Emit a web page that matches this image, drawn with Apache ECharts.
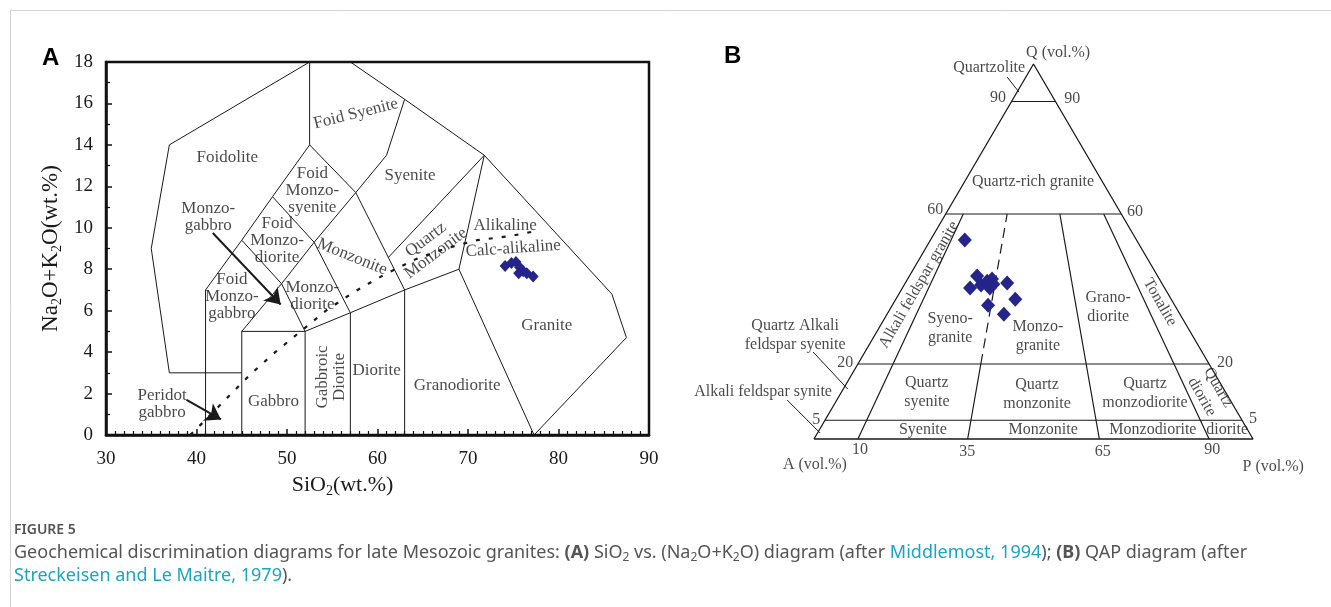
<!DOCTYPE html>
<html><head><meta charset="utf-8">
<script src="https://cdn.jsdelivr.net/npm/echarts@6/dist/echarts.min.js"></script>
<style>html,body{margin:0;padding:0;background:#fff}#c{width:1331px;height:607px}</style>
</head><body><div id="c"></div>
<script>
const FONT = '"Liberation Serif","Times New Roman",serif';
const INK = '#1a1a1a';
const NAVY = '#25248a';

// ---------- Panel A : TAS (SiO2 vs Na2O+K2O) ----------
const siO2Ticks = [30, 40, 50, 60, 70, 80, 90];
const alkTicks = [0, 2, 4, 6, 8, 10, 12, 14, 16, 18];
const sampleSiO2 = [74.1, 74.8, 75.3, 75.7, 76.1, 75.6, 76.5, 77.2];
const sampleAlk  = [8.16, 8.30, 8.35, 8.10, 7.90, 7.80, 7.80, 7.65];
const tasFieldLines = [
  [[37,3],[35,9],[37,14],[52.5,18],[57,18],[63,16.2],[71.8,13.5],[85.9,6.8],[87.5,4.7],[77.3,0]],
  [[37,3],[45,3]],
  [[41,0],[41,7],[45,9.4],[48.4,11.5],[52.5,14],[52.5,18]],
  [[52.5,14],[57.6,11.7],[61,13.5],[63,16.2]],
  [[45,9.4],[49.4,7.3],[53,9.3],[48.4,11.5]],
  [[53,9.3],[57.6,11.7]],
  [[45,0],[45,5],[52,5],[52,0]],
  [[45,5],[49.4,7.3],[52,5],[57,5.9],[63,7],[69,8],[77.3,0]],
  [[53,9.3],[57,5.9],[57,0]],
  [[57.6,11.7],[63,7],[63,0]],
  [[61.2,8.57],[71.8,13.5],[69,8]]
];
const alkalineDivide = [[39.3,0],[40.7,0.6],[43.4,1.8],[45.9,2.9],[48.7,4.0],[51.5,5.0],[54.3,6.0],[57.4,6.9],[60.6,7.7],[64.3,8.5],[67.5,9.0],[71,9.4],[74.7,9.6],[77,9.8]];
const tasArrows = [[[41.8,9.75],[49.3,6.3]], [[38.9,1.7],[42.7,0.75]]];
const tasLabels = [
  ['Foidolite', 43.4, 13.4, 0],
  ['Foid Syenite', 57.6, 15.5, 14],
  ['Foid\nMonzo-\nsyenite', 52.8, 11.8, 0],
  ['Foid\nMonzo-\ndiorite', 48.9, 9.4, 0],
  ['Monzo-\ngabbro', 41.3, 10.5, 0],
  ['Foid\nMonzo-\ngabbro', 43.9, 6.7, 0],
  ['Monzo-\ndiorite', 52.8, 6.7, 0],
  ['Monzonite', 57.2, 8.6, -22],
  ['Syenite', 63.6, 12.5, 0],
  ['Quartz\nMonzonite', 65.9, 9.1, 37],
  ['Alikaline', 74.1, 10.1, 0],
  ['Calc-alikaline', 75.0, 9.0, 4],
  ['Granite', 78.7, 5.3, 0],
  ['Granodiorite', 68.8, 2.4, 0],
  ['Diorite', 59.9, 3.1, 0],
  ['Gabbroic\nDiorite', 54.9, 2.8, 90],
  ['Gabbro', 48.5, 1.6, 0],
  ['Peridot\ngabbro', 36.2, 1.5, 0]
];

// ---------- Panel B : QAP ternary ----------
const sampleQ = [53.1, 43.5, 40.3, 41.1, 42.1, 42.7, 41.3, 40.3, 41.6, 37.3, 35.7, 33.3];
const sampleA = [39.1, 41.1, 44.3, 41.4, 39.5, 38.1, 38.5, 39.8, 35.2, 35.5, 42.5, 40.1];
const sampleP = [7.8, 15.4, 15.4, 17.5, 18.4, 19.2, 20.2, 19.9, 23.2, 27.2, 21.8, 26.6];
const qLevels = [5, 20, 60, 90];
const pRatios = [10, 35, 65, 90];
const qapLabels = [
  ['Q (vol.%)', 55.6, 102.9, 0],
  ['Quartzolite', 39.9, 98.9, 0],
  ['90', 41.9, 90.9, 0], ['90', 58.8, 90.7, 0],
  ['60', 27.6, 61.1, 0], ['60', 73.1, 60.5, 0],
  ['20', 7.1, 20.3, 0], ['20', 93.6, 20.3, 0],
  ['5', 0.5, 5.1, 0], ['5', 100.0, 5.3, 0],
  ['10', 10.5, -2.9, 0], ['35', 34.9, -3.5, 0], ['65', 65.8, -3.5, 0], ['90', 90.7, -2.9, 0],
  ['A (vol.%)', 0.2, -6.9, 0], ['P (vol.%)', 104.6, -7.5, 0],
  ['Quartz-rich granite', 49.9, 68.5, 0],
  ['Alkali feldspar granite', 23.9, 41.1, 60],
  ['Syeno-\ngranite', 31.0, 29.6, 0],
  ['Monzo-\ngranite', 51.0, 27.5, 0],
  ['Grano-\ndiorite', 67.0, 35.2, 0],
  ['Tonalite', 78.8, 36.5, -60],
  ['Quartz Alkali\nfeldspar syenite', -4.3, 27.7, 0],
  ['Alkali feldspar synite', -11.6, 12.5, 0],
  ['Quartz\nsyenite', 25.7, 12.5, 0],
  ['Syenite', 24.8, 2.4, 0],
  ['Quartz\nmonzonite', 50.8, 12.0, 0],
  ['Monzonite', 52.2, 2.4, 0],
  ['Quartz\nmonzodiorite', 75.4, 12.3, 0],
  ['Monzodiorite', 77.2, 2.4, 0],
  ['diorite', 94.1, 2.4, 0],
  ['Quartz\ndiorite', 90.2, 12.5, -60]
];
const qapLeaders = [
  [[44.0,96.5],[46.7,92.5]],
  [[-0.2,23.2],[7.7,13.3]],
  [[-6.1,10.4],[1.4,1.6]]
];

// ternary -> cartesian (Q in %, r = P/(A+P) in %)
function tern(q, r) { return [r * (1 - q / 100) + q / 2, q]; }

const series = [];
function line(xi, pts, extra) {
  series.push(Object.assign({
    type: 'line', xAxisIndex: xi, yAxisIndex: xi, data: pts, symbol: 'none',
    silent: true, animation: false, z: 3,
    lineStyle: { color: INK, width: 1 }
  }, extra || {}));
}
function labels(xi, list, size, lh) {
  series.push({
    type: 'scatter', xAxisIndex: xi, yAxisIndex: xi, symbolSize: 0, silent: true, z: 6,
    itemStyle: { color: 'rgba(0,0,0,0)' },
    data: list.map(l => ({ name: l[0], value: [l[1], l[2]], label: { rotate: l[3] } })),
    label: { show: true, position: 'inside', formatter: '{b}', color: INK, fontFamily: FONT,
      fontSize: size, lineHeight: lh, align: 'center', verticalAlign: 'middle' }
  });
}

// Panel A series
tasFieldLines.forEach(pl => line(0, pl));
line(0, alkalineDivide, { lineStyle: { color: INK, width: 2.2, type: [4, 9] } });
series.push({
  type: 'lines', coordinateSystem: 'cartesian2d', xAxisIndex: 0, yAxisIndex: 0, silent: true, z: 4,
  data: tasArrows.map(c => ({ coords: c })),
  symbol: ['none', 'arrow'], symbolSize: [0, 15],
  lineStyle: { color: INK, width: 2, opacity: 1, curveness: 0 }
});
series.push({
  type: 'scatter', xAxisIndex: 0, yAxisIndex: 0, symbol: 'diamond', symbolSize: [11, 12], z: 7,
  itemStyle: { color: NAVY, opacity: 1 }, data: sampleSiO2.map((x, i) => [x, sampleAlk[i]])
});
labels(0, tasLabels, 17, 17);

// Panel B series
line(1, [tern(0, 0), tern(0, 100), tern(100, 0), tern(0, 0)], { lineStyle: { color: INK, width: 1.3 } });
qLevels.forEach(q => line(1, [tern(q, 0), tern(q, 100)], { lineStyle: { color: INK, width: 1.2 } }));
pRatios.forEach(r => {
  if (r === 35) {
    line(1, [tern(0, r), tern(20, r)], { lineStyle: { color: INK, width: 1.2 } });
    line(1, [tern(20, r), tern(60, r)], { lineStyle: { color: INK, width: 1.2, type: [10, 6] } });
  } else {
    line(1, [tern(0, r), tern(60, r)], { lineStyle: { color: INK, width: 1.2 } });
  }
});
qapLeaders.forEach(s => line(1, s));
series.push({
  type: 'scatter', xAxisIndex: 1, yAxisIndex: 1, symbol: 'diamond', symbolSize: [14, 15], z: 7,
  itemStyle: { color: NAVY, opacity: 1 },
  data: sampleQ.map((q, i) => {
    const tot = q + sampleA[i] + sampleP[i];
    const Q = q / tot * 100;
    const r = sampleP[i] / (sampleA[i] + sampleP[i]) * 100;
    return tern(Q, r);
  })
});
labels(1, qapLabels, 16, 19);

const tickFont = { fontFamily: FONT, fontSize: 19, color: INK };
const CAP = '"Noto Sans", sans-serif';
const option = {
  animation: false,
  backgroundColor: '#fff',
  grid: [
    { left: 106, right: 682, top: 62, bottom: 172, show: true, borderColor: '#111', borderWidth: 2.5, backgroundColor: 'rgba(0,0,0,0)' },
    { left: 638.4, right: 12.15, top: 26.5, bottom: 93 }
  ],
  xAxis: [
    { type: 'value', gridIndex: 0, min: siO2Ticks[0], max: siO2Ticks[siO2Ticks.length - 1],
      interval: siO2Ticks[1] - siO2Ticks[0],
      name: '{n|SiO}{s|2}{n|(wt.%)}', nameLocation: 'middle', nameGap: 34,
      nameTextStyle: { padding: [0, 70, 0, 0], rich: { n: { fontFamily: FONT, fontSize: 22, color: INK, lineHeight: 26 },
        s: { fontFamily: FONT, fontSize: 14, color: INK, verticalAlign: 'bottom', lineHeight: 14 } } },
      axisLine: { lineStyle: { color: '#111', width: 2.5 } },
      axisTick: { inside: true, length: 6, lineStyle: { color: '#111', width: 1.5 } },
      minorTick: { show: true, splitNumber: 10, length: 4, lineStyle: { color: '#111', width: 1.2 } },
      splitLine: { show: false }, minorSplitLine: { show: false },
      axisLabel: Object.assign({ margin: 15 }, tickFont) },
    { type: 'value', gridIndex: 1, min: -40, max: 115, show: false, splitLine: { show: false } }
  ],
  yAxis: [
    { type: 'value', gridIndex: 0, min: alkTicks[0], max: alkTicks[alkTicks.length - 1],
      interval: alkTicks[1] - alkTicks[0],
      name: '{n|Na}{s|2}{n|O+K}{s|2}{n|O(wt.%)}', nameLocation: 'middle', nameGap: 42, nameRotate: 90,
      nameTextStyle: { rich: { n: { fontFamily: FONT, fontSize: 23, color: INK, lineHeight: 27 },
        s: { fontFamily: FONT, fontSize: 14, color: INK, verticalAlign: 'bottom', lineHeight: 14 } } },
      axisLine: { lineStyle: { color: '#111', width: 2.5 } },
      axisTick: { inside: true, length: 6, lineStyle: { color: '#111', width: 1.5 } },
      minorTick: { show: true, splitNumber: 2, length: 4, lineStyle: { color: '#111', width: 1.2 } },
      splitLine: { show: false }, minorSplitLine: { show: false },
      axisLabel: Object.assign({ margin: 13 }, tickFont) },
    { type: 'value', gridIndex: 1, min: -20, max: 110, show: false, splitLine: { show: false } }
  ],
  graphic: [
    { type: 'line', shape: { x1: 10, y1: 10.5, x2: 1331, y2: 10.5 }, style: { stroke: '#d4d4d4', lineWidth: 1 }, silent: true },
    { type: 'line', shape: { x1: 10.5, y1: 10, x2: 10.5, y2: 607 }, style: { stroke: '#d4d4d4', lineWidth: 1 }, silent: true },
    { type: 'text', x: 42, y: 58, style: { text: 'A', font: 'bold 24px "Liberation Sans", Arial, sans-serif', fill: '#000', verticalAlign: 'middle' } },
    { type: 'text', x: 724, y: 56, style: { text: 'B', font: 'bold 24px "Liberation Sans", Arial, sans-serif', fill: '#000', verticalAlign: 'middle' } },
    { type: 'text', x: 14, y: 530, style: { text: 'FIGURE 5', font: '600 14px "Noto Sans", sans-serif', fill: '#555', verticalAlign: 'middle' } },
    { type: 'text', x: 14, y: 553, style: {
      text: '{n|Geochemical discrimination diagrams for late Mesozoic granites: }{b|(A)}{n| SiO}{s|2}{n| vs. (Na}{s|2}{n|O+K}{s|2}{n|O) diagram (after }{l|Middlemost, 1994}{n|); }{b|(B)}{n| QAP diagram (after}',
      verticalAlign: 'middle',
      rich: {
        n: { fontFamily: CAP, fontSize: 18, fill: '#555', lineHeight: 22 },
        b: { fontFamily: CAP, fontSize: 18, fontWeight: 'bold', fill: '#555', lineHeight: 22 },
        l: { fontFamily: CAP, fontSize: 18, fill: '#1aa5c0', lineHeight: 22 },
        s: { fontFamily: CAP, fontSize: 12, fill: '#555', lineHeight: 12, verticalAlign: 'bottom' }
      } } },
    { type: 'text', x: 14, y: 576, style: {
      text: '{l|Streckeisen and Le Maitre, 1979}{n|).}',
      verticalAlign: 'middle',
      rich: {
        n: { fontFamily: CAP, fontSize: 18, fill: '#555', lineHeight: 22 },
        l: { fontFamily: CAP, fontSize: 18, fill: '#1aa5c0', lineHeight: 22 }
      } } }
  ],
  series: series
};
const chart = echarts.init(document.getElementById('c'), null, { renderer: 'canvas' });
chart.setOption(option);
</script></body></html>
